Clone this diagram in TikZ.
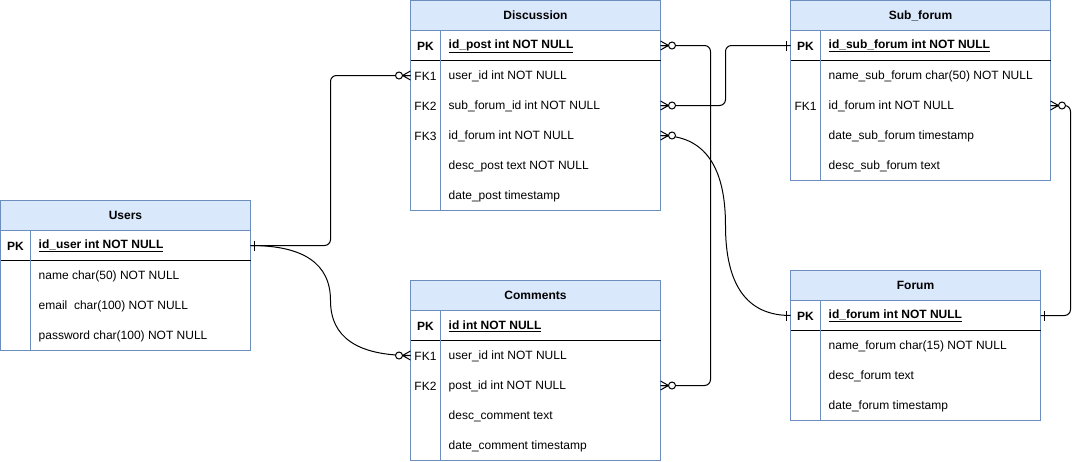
\documentclass[tikz,border=0pt]{standalone}
\usepackage{fontspec}
\setmainfont{Liberation Sans}
\definecolor{hdrc}{HTML}{DAE8FC}
\definecolor{bord}{HTML}{6C8EBF}
\newcommand\erow[6]{%
  \node[rowbox,minimum width=#4] (#1) at (#2,#3) {};
  \node[keyt] (#1-k) at (#2+15,#3+15.5) {#5};
  \node[fldt] (#1-t) at (#2+38,#3+15.5) {#6};}
\newcommand\etable[6]{% name, x, y, w, h, title
  \node[tbl,minimum width=#4,minimum height=#5] (#1) at (#2,#3) {};
  \node[hdr,minimum width=#4] (#1-h) at (#2,#3) {#6};}
\newcommand\efinish[1]{%
  \draw[line width=1pt] (#1-pk.south west) -- (#1-pk.south east);
  \draw[line width=1pt,bord] ([xshift=30pt]#1-pk.north west) -- ([xshift=30pt]#1.south west);}
\tikzset{
  tbl/.style={draw=bord,fill=white,rectangle,inner sep=0,outer sep=0,anchor=north west,line width=1pt},
  hdr/.style={draw=bord,fill=hdrc,inner sep=0,outer sep=0,anchor=north west,minimum height=30,line width=1pt,font=\fontsize{12}{14}\selectfont\bfseries},
  rowbox/.style={inner sep=0,outer sep=0,anchor=north west,minimum height=30},
  keyt/.style={font=\fontsize{12}{14}\selectfont,anchor=center,inner sep=0},
  fldt/.style={font=\fontsize{12}{14}\selectfont,anchor=west,inner sep=0},
  conn/.style={line width=1pt,rounded corners=6},
  curv/.style={line width=1pt},
  pics/zm/.style={code={
    \draw[line width=1pt] (0,-4.5)--(8,0) (0,4.5)--(8,0) (0,0)--(8,0);
    \draw[line width=1pt,fill=white] (11.5,0) circle[radius=3.5pt];}},
  pics/one/.style={code={\draw[line width=1pt] (4,-5)--(4,5);}},
}
\begin{document}
\begin{tikzpicture}[x=1pt,y=-1pt]
\useasboundingbox[fill=white] (0,0) rectangle (1080,461);
% Users
\etable{users}{0.5}{200.5}{250}{150}{Users}
\erow{users-pk}{0.5}{230.5}{250}{\textbf{PK}}{\textbf{\underline{id\_user int NOT NULL}}}
\erow{users-r1}{0.5}{260.5}{250}{}{name char(50) NOT NULL}
\erow{users-r2}{0.5}{290.5}{250}{}{email\ \ char(100) NOT NULL}
\erow{users-r3}{0.5}{320.5}{250}{}{password char(100) NOT NULL}
\efinish{users}
% Discussion
\etable{disc}{410.5}{0.5}{250}{210}{Discussion}
\erow{disc-pk}{410.5}{30.5}{250}{\textbf{PK}}{\textbf{\underline{id\_post int NOT NULL}}}
\erow{disc-r1}{410.5}{60.5}{250}{FK1}{user\_id int NOT NULL}
\erow{disc-r2}{410.5}{90.5}{250}{FK2}{sub\_forum\_id int NOT NULL}
\erow{disc-r3}{410.5}{120.5}{250}{FK3}{id\_forum int NOT NULL}
\erow{disc-r4}{410.5}{150.5}{250}{}{desc\_post text NOT NULL}
\erow{disc-r5}{410.5}{180.5}{250}{}{date\_post timestamp}
\efinish{disc}
% Comments
\etable{com}{410.5}{280.5}{250}{180}{Comments}
\erow{com-pk}{410.5}{310.5}{250}{\textbf{PK}}{\textbf{\underline{id int NOT NULL}}}
\erow{com-r1}{410.5}{340.5}{250}{FK1}{user\_id int NOT NULL}
\erow{com-r2}{410.5}{370.5}{250}{FK2}{post\_id int NOT NULL}
\erow{com-r3}{410.5}{400.5}{250}{}{desc\_comment text}
\erow{com-r4}{410.5}{430.5}{250}{}{date\_comment timestamp}
\efinish{com}
% Sub_forum
\etable{sub}{790.5}{0.5}{260}{180}{Sub\_forum}
\erow{sub-pk}{790.5}{30.5}{260}{\textbf{PK}}{\textbf{\underline{id\_sub\_forum int NOT NULL}}}
\erow{sub-r1}{790.5}{60.5}{260}{}{name\_sub\_forum char(50) NOT NULL}
\erow{sub-r2}{790.5}{90.5}{260}{FK1}{id\_forum int NOT NULL}
\erow{sub-r3}{790.5}{120.5}{260}{}{date\_sub\_forum timestamp}
\erow{sub-r4}{790.5}{150.5}{260}{}{desc\_sub\_forum text}
\efinish{sub}
% Forum
\etable{for}{790.5}{270.5}{250}{150}{Forum}
\erow{for-pk}{790.5}{300.5}{250}{\textbf{PK}}{\textbf{\underline{id\_forum int NOT NULL}}}
\erow{for-r1}{790.5}{330.5}{250}{}{name\_forum char(15) NOT NULL}
\erow{for-r2}{790.5}{360.5}{250}{}{desc\_forum text}
\erow{for-r3}{790.5}{390.5}{250}{}{date\_forum timestamp}
\efinish{for}
% connectors
\draw[conn] (users-pk.east) -- ++(80,0) |- (disc-r1.west);
\draw[curv] (users-pk.east) .. controls +(53.3,0) and +(0,-36.7) .. (330.5,300.5)
  .. controls +(0,36.7) and +(-53.3,0) .. (com-r1.west);
\draw[conn] (disc-pk.east) -- ++(50,0) |- (com-r2.east);
\draw[conn] (disc-r2.east) -- ++(65,0) |- (sub-pk.west);
\draw[curv] (disc-r3.east) .. controls +(43.3,0) and +(0,-60) .. (725.5,225.5)
  .. controls +(0,60) and +(-43.3,0) .. (for-pk.west);
\draw[conn] (sub-r2.east) -- ++(20,0) |- (for-pk.east);
% end marks
\pic at (users-pk.east) {one};
\pic[rotate=180] at (disc-r1.west) {zm};
\pic[rotate=180] at (com-r1.west) {zm};
\pic at (disc-pk.east) {zm};
\pic at (com-r2.east) {zm};
\pic at (disc-r2.east) {zm};
\pic[rotate=180] at (sub-pk.west) {one};
\pic at (disc-r3.east) {zm};
\pic[rotate=180] at (for-pk.west) {one};
\pic at (sub-r2.east) {zm};
\pic at (for-pk.east) {one};
\end{tikzpicture}
\end{document}
